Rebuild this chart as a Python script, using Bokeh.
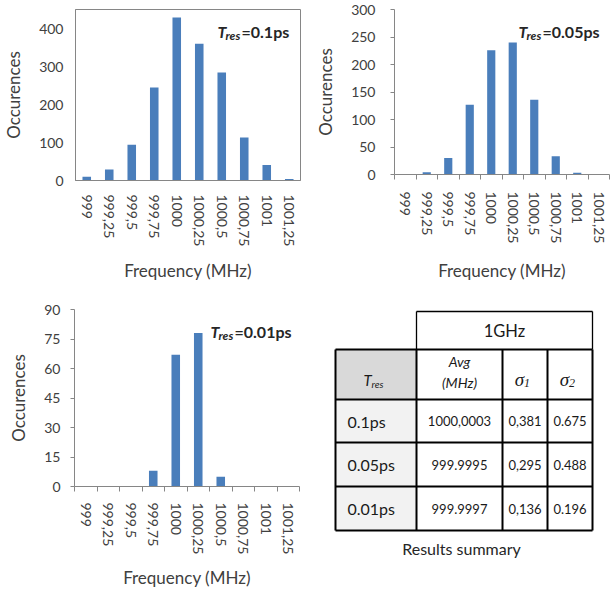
from bokeh.plotting import figure
from bokeh.layouts import row, column
from bokeh.models import Range1d, FixedTicker
from bokeh.core.properties import value
from bokeh.embed import file_html
from bokeh.resources import INLINE

# ---------------- data ----------------
freq_labels = ["999", "999,25", "999,5", "999,75", "1000", "1000,25",
               "1000,5", "1000,75", "1001", "1001,25"]
counts_01 = [10, 29, 94, 245, 429, 360, 284, 113, 41, 4]
counts_005 = [0, 4, 30, 127, 226, 240, 136, 33, 3, 0]
counts_001 = [0, 0, 0, 8, 67, 78, 5, 0, 0, 0]
y_ticks_01 = [0, 100, 200, 300, 400]
y_ticks_005 = [0, 50, 100, 150, 200, 250, 300]
y_ticks_001 = [0, 15, 30, 45, 60, 75, 90]
y_max = [450, 300, 90]
tres_labels = ["0.1ps", "0.05ps", "0.01ps"]

table_header = "1GHz"
avg_vals = ["1000,0003", "999.9995", "999.9997"]
sigma1_vals = ["0,381", "0,295", "0,136"]
sigma2_vals = ["0.675", "0.488", "0.196"]
caption = "Results summary"

FONT = "Lato"
AXIS_GRAY = "#868686"
TEXT = "#404040"
BAR = "#4A7EBB"


def hist(counts, ymax, yticks, tres, width, height, bl, br, bt, bb,
         boxed, ticks, ylab_standoff, xlab_standoff, ylab_axis_standoff,
         xlab_axis_standoff, t_start):
    n = len(freq_labels)
    idx = list(range(n))
    p = figure(width=width, height=height, x_range=Range1d(-0.5, n - 0.5),
               y_range=Range1d(0, ymax), toolbar_location=None,
               output_backend="svg", min_border_left=bl, min_border_right=br,
               min_border_top=bt, min_border_bottom=bb, title=None)
    p.vbar(x=idx, top=counts, width=0.38, fill_color=BAR, line_color=None)
    p.grid.visible = False
    p.outline_line_color = AXIS_GRAY if boxed else None
    p.background_fill_color = "white"
    p.border_fill_color = "white"

    xa = p.xaxis[0]
    xa.ticker = FixedTicker(ticks=idx, minor_ticks=[i - 0.5 for i in range(n + 1)])
    xa.major_label_overrides = {i: lab for i, lab in zip(idx, freq_labels)}
    xa.major_label_orientation = "vertical"
    xa.major_tick_out = 0
    xa.major_tick_in = 0
    xa.minor_tick_in = 0
    xa.minor_tick_out = 5 if ticks else 0
    xa.minor_tick_line_color = AXIS_GRAY
    xa.axis_line_color = AXIS_GRAY
    xa.major_label_text_font = FONT
    xa.major_label_text_font_size = "14px"
    xa.major_label_text_color = TEXT
    xa.major_label_standoff = xlab_standoff
    xa.axis_label = "Frequency (MHz)"
    xa.axis_label_text_font = FONT
    xa.axis_label_text_font_size = "17px"
    xa.axis_label_text_font_style = "normal"
    xa.axis_label_text_color = TEXT
    xa.axis_label_standoff = xlab_axis_standoff

    ya = p.yaxis[0]
    ya.ticker = FixedTicker(ticks=yticks, minor_ticks=[])
    ya.major_tick_in = 0
    ya.major_tick_out = 4 if ticks else 0
    ya.major_tick_line_color = AXIS_GRAY
    ya.minor_tick_out = 0
    ya.minor_tick_in = 0
    ya.axis_line_color = AXIS_GRAY
    ya.major_label_text_font = FONT
    ya.major_label_text_font_size = "14px"
    ya.major_label_text_color = TEXT
    ya.major_label_standoff = ylab_standoff
    ya.axis_label = "Occurences"
    ya.axis_label_text_font = FONT
    ya.axis_label_text_font_size = "17px"
    ya.axis_label_text_font_style = "normal"
    ya.axis_label_text_color = TEXT
    ya.axis_label_standoff = ylab_axis_standoff

    xr = n - 0.5
    p.text(x=[xr], y=[ymax], text=["T"], x_offset=t_start, y_offset=22,
           text_font=value(FONT), text_font_style="bold italic",
           text_font_size="16px", text_color="#262626",
           text_align="left", text_baseline="alphabetic")
    p.text(x=[xr], y=[ymax], text=["res"], x_offset=t_start + 8, y_offset=26,
           text_font=value(FONT), text_font_style="bold italic",
           text_font_size="12px", text_color="#262626",
           text_align="left", text_baseline="alphabetic")
    p.text(x=[xr], y=[ymax], text=["=" + tres], x_offset=t_start + 24, y_offset=22,
           text_font=value(FONT), text_font_style="bold",
           text_font_size="16px", text_color="#262626",
           text_align="left", text_baseline="alphabetic")
    return p


TOP_H = 299
BOT_H = 293
pA = hist(counts_01, y_max[0], y_ticks_01, tres_labels[0], 312, TOP_H,
          73, 12, 9, 119, True, False, 12, 14, 12, 11, -83)
pB = hist(counts_005, y_max[1], y_ticks_005, tres_labels[1], 298, TOP_H,
          72, 1, 9, 125, False, True, 15, 12, 12, 14, -91)
pC = hist(counts_001, y_max[2], y_ticks_001, tres_labels[2], 312, BOT_H,
          74, 13, 10, 106, False, True, 10, 11, 12, 10, -89)

# ---------------- table ----------------
W, H = 298, BOT_H
col_edges = [23, 104, 190, 235, 280]
row_edges = [12, 50, 100, 143, 187, 231]
pD = figure(width=W, height=H, x_range=Range1d(0, W), y_range=Range1d(H, 0),
            x_axis_location=None, y_axis_location=None, toolbar_location=None,
            output_backend="svg", min_border=0, outline_line_color=None,
            title=None)
pD.grid.visible = False
pD.background_fill_color = "white"
pD.border_fill_color = "white"

pD.quad(left=[col_edges[0]], right=[col_edges[1]], top=[row_edges[1]],
        bottom=[row_edges[2]], fill_color="#D9D9D9", line_color=None)
pD.quad(left=[col_edges[0]] * 3, right=[col_edges[1]] * 3, top=row_edges[2:5],
        bottom=row_edges[3:6], fill_color="#F2F2F2", line_color=None)
pD.segment(x0=[col_edges[1], col_edges[1], col_edges[-1]],
           y0=[row_edges[0], row_edges[0], row_edges[0]],
           x1=[col_edges[-1], col_edges[1], col_edges[-1]],
           y1=[row_edges[0], row_edges[1], row_edges[1]],
           line_color="black", line_width=1.3)
hy = row_edges[1:]
pD.segment(x0=[col_edges[0]] * 5, y0=hy, x1=[col_edges[-1]] * 5, y1=hy,
           line_color="black", line_width=2)
pD.segment(x0=col_edges, y0=[row_edges[1]] * 5, x1=col_edges,
           y1=[row_edges[-1]] * 5, line_color="black", line_width=2)

TC = "#1a1a1a"
ccx = [(col_edges[i] + col_edges[i + 1]) / 2 for i in range(4)]
rcy = [(row_edges[i] + row_edges[i + 1]) / 2 for i in range(5)]

pD.text(x=[(col_edges[1] + col_edges[-1]) / 2], y=[rcy[0]], text=[table_header],
        text_font=value(FONT), text_font_size="16.5px", text_color=TC,
        text_align="center", text_baseline="middle")
pD.text(x=[col_edges[0] + 28], y=[rcy[1] + 5], text=["T"], text_font=value(FONT),
        text_font_style="italic", text_font_size="15px", text_color=TC,
        text_align="left", text_baseline="alphabetic")
pD.text(x=[col_edges[0] + 36], y=[rcy[1] + 9], text=["res"], text_font=value(FONT),
        text_font_style="italic", text_font_size="10px", text_color=TC,
        text_align="left", text_baseline="alphabetic")
pD.text(x=[ccx[1]], y=[rcy[1] - 13], text=["Avg"], text_font=value(FONT),
        text_font_style="italic", text_font_size="14px", text_color=TC,
        text_align="center", text_baseline="middle")
pD.text(x=[ccx[1]], y=[rcy[1] + 8], text=["(MHz)"], text_font=value(FONT),
        text_font_style="italic", text_font_size="14px", text_color=TC,
        text_align="center", text_baseline="middle")
for k, sub in ((2, "1"), (3, "2")):
    pD.text(x=[ccx[k] - 1], y=[rcy[1] + 5], text=["σ"],
            text_font=value("Liberation Serif"), text_font_style="italic",
            text_font_size="19px", text_color=TC, text_align="right",
            text_baseline="alphabetic")
    pD.text(x=[ccx[k] - 1], y=[rcy[1] + 8], text=[sub],
            text_font=value("Liberation Serif"), text_font_style="italic",
            text_font_size="12px", text_color=TC, text_align="left",
            text_baseline="alphabetic")

pD.text(x=[col_edges[0] + 12] * 3, y=rcy[2:5], text=tres_labels, text_font=value(FONT),
        text_font_size="16px", text_color=TC, text_align="left",
        text_baseline="middle")
for k, vals in ((1, avg_vals), (2, sigma1_vals), (3, sigma2_vals)):
    pD.text(x=[ccx[k]] * 3, y=rcy[2:5], text=vals, text_font=value(FONT),
            text_font_size="13px", text_color=TC, text_align="center",
            text_baseline="middle")

pD.text(x=[149], y=[249], text=[caption], text_font=value(FONT),
        text_font_size="16px", text_color="#262626", text_align="center",
        text_baseline="middle")

layout = column(row(column(pA), column(pB)), row(column(pC), column(pD)))
open("out.html", "w").write(file_html(layout, INLINE))
